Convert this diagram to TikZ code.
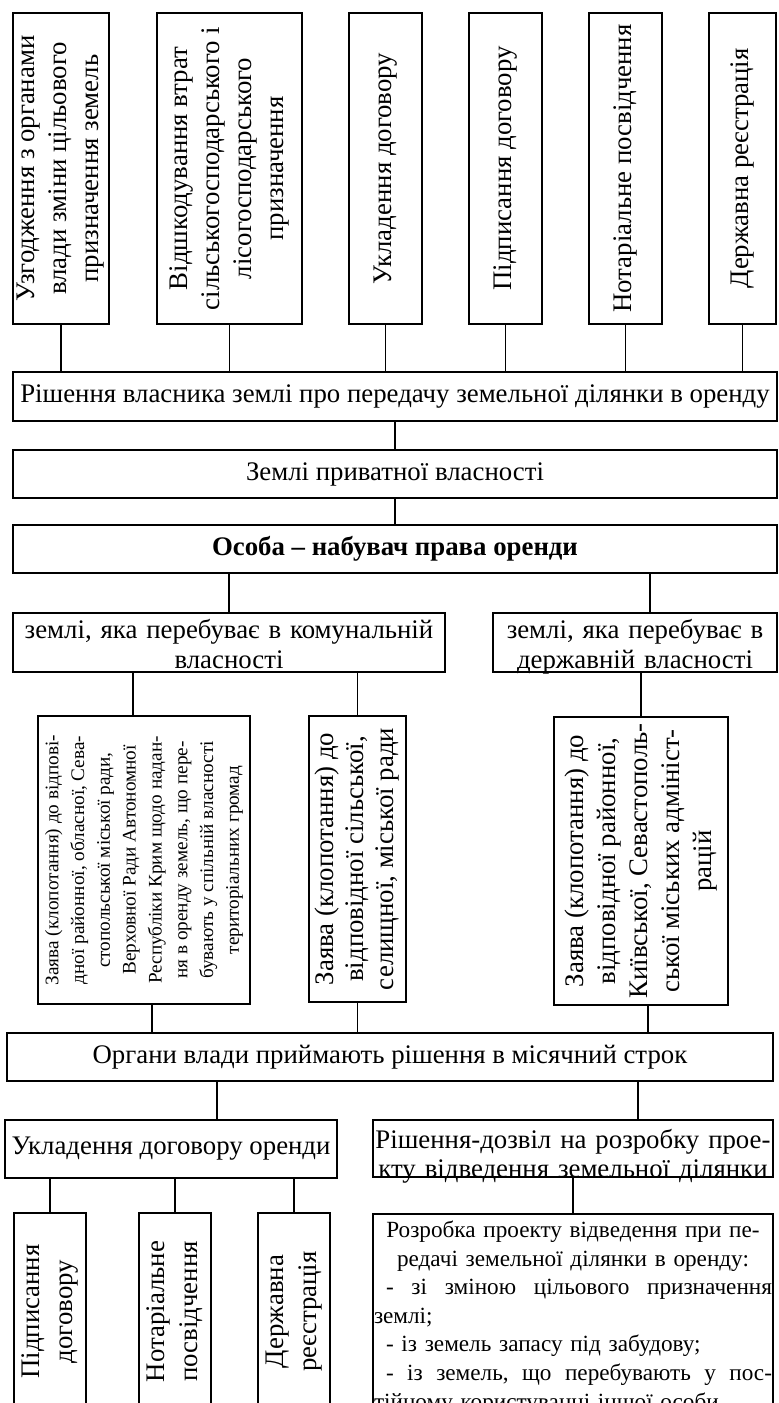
\documentclass[tikz,border=0pt]{standalone}
\usepackage{fontspec}
\setmainfont{Liberation Serif}
\usetikzlibrary{positioning,calc}
\newcommand{\fullline}[1]{\makebox[\linewidth][l]{#1}}
\newcommand{\midline}[1]{\makebox[\linewidth][c]{#1}}

\begin{document}
\begin{tikzpicture}[x=1pt,y=-1pt,
  box/.style={draw,line width=0.9pt,inner sep=0pt,align=center,font=\fontsize{13.4}{16}\selectfont},
  upbox/.style={box,rotate=90,minimum width=155.5pt},
  lowbox/.style={box,rotate=90,minimum width=98.5pt,minimum height=36pt,font=\fontsize{13.4}{16.5}\selectfont},
  widebox/.style={box,minimum width=382pt,minimum height=24.5pt},
  twoline/.style={box,text height=12.5pt,text depth=17pt,font=\fontsize{13.4}{15}\selectfont},
  link/.style={line width=0.9pt}]
  \useasboundingbox (0,0) rectangle (389.5,701.5);
  \clip (0,0) rectangle (389.5,701.5);

  \node[upbox,minimum height=48pt] (t1) at (30.5,84.25) {Узгодження з органами\\влади зміни цільового\\призначення земель};
  \node[upbox,minimum height=72.5pt] (t2) at (114.75,84.25) {Відшкодування втрат\\сільськогосподарського і\\лісогосподарського\\призначення};
  \node[upbox,minimum height=36.5pt] (t3) at (192.75,84.25) {Укладення договору};
  \node[upbox,minimum height=36.5pt] (t4) at (252.75,84.25) {Підписання договору};
  \node[upbox,minimum height=36.5pt] (t5) at (312.75,84.25) {Нотаріальне посвідчення};
  \node[upbox,minimum height=33.5pt] (t6) at (371.25,84.25) {Державна реєстрація};

  \node[widebox] (resh) at (197.5,198.25) {Рішення власника землі про передачу земельної ділянки в оренду};
  \node[widebox,minimum height=24pt] (zeml) at (197.5,237) {Землі приватної власності};
  \node[widebox,minimum height=24pt,font=\fontsize{13.4}{16}\selectfont\bfseries] (osoba) at (197.5,274.5) {Особа – набувач права оренди};

  \node[twoline,text width=216pt] (komun) at (114.5,321.25) {землі, яка перебуває в комунальній\\власності};
  \node[twoline,text width=142pt] (derzh) at (317.5,321.25) {землі, яка перебуває в\\державній власності};

  \node[box,rotate=90,minimum width=144pt,minimum height=106pt,font=\fontsize{9.6}{12.9}\selectfont] (z1) at (72,430)
    {Заява (клопотання) до відпові-\\дної районної, обласної, Сева-\\стопольської міської ради,\\Верховної Ради Автономної\\Республіки Крим щодо надан-\\ня в оренду земель, що пере-\\бувають у спільній власності\\територіальних громад};
  \node[box,rotate=90,minimum width=143pt,minimum height=48.5pt,font=\fontsize{13.4}{15}\selectfont] (z2) at (178.75,429.5)
    {Заява (клопотання) до\\відповідної сільської,\\селищної, міської ради};
  \node[box,rotate=90,minimum width=144pt,minimum height=87pt] (z3) at (320.5,430.5)
    {Заява (клопотання) до\\відповідної районної,\\Київської, Севастополь-\\ської міських адмініст-\\рацій};

  \node[box,minimum width=383pt,minimum height=24pt] (organy) at (195,528.5) {Органи влади приймають рішення в місячний строк};

  \node[box,minimum width=166pt,minimum height=29pt] (ukl) at (85.5,574.5) {Укладення договору оренди};
  \node[twoline,text width=200pt,text height=14pt,text depth=14.5pt,font=\fontsize{13.4}{14.5}\selectfont] (dozv) at (286.5,574.25)
    {\midline{Рішення-дозвіл на розробку прое-}\\\midline{кту відведення земельної ділянки}};

  \node[lowbox] (b1) at (25,655.75) {Підписання\\договору};
  \node[lowbox] (b2) at (87.5,655.75) {Нотаріальне\\посвідчення};
  \node[lowbox] (b3) at (147,655.75) {Державна\\реєстрація};

  \node[box,anchor=north,text width=199pt,inner xsep=0.5pt,inner ysep=3.5pt,align=left,font=\fontsize{11.6}{14.3}\selectfont] (rozr) at (286.5,606.5)
    {\midline{Розробка проекту відведення при пе-}\\
     \midline{редачі земельної ділянки в оренду:}\\
     \fullline{\hspace*{6pt}-\hfill зі\hfill зміною\hfill цільового\hfill призначення}\\
     землі;\\
     \hspace*{6pt}- із земель запасу під забудову;\\
     \fullline{\hspace*{6pt}-\hfill із\hfill земель,\hfill що\hfill перебувають\hfill у\hfill пос-}\\
     тійному користуванні іншої особи};

  \foreach \n in {t1,t2,t3,t4,t5,t6}
    \draw[link] (\n.west) -- (\n.west |- resh.north);
  \draw[link] (resh.south) -- (zeml.north);
  \draw[link] (zeml.south) -- (osoba.north);
  \draw[link] (komun.north) -- (komun.north |- osoba.south);
  \draw[link] ([xshift=7.5pt]derzh.north) -- ([xshift=7.5pt]derzh.north |- osoba.south);
  \draw[link] ([xshift=-5.5pt]z1.east) -- ([xshift=-5.5pt]z1.east |- komun.south);
  \draw[link] (z2.east) -- (z2.east |- komun.south);
  \draw[link] (z3.east) -- (z3.east |- derzh.south);
  \draw[link] ([xshift=4pt]z1.west) -- ([xshift=4pt]z1.west |- organy.north);
  \draw[link] (z2.west) -- (z2.west |- organy.north);
  \draw[link] ([xshift=3.5pt]z3.west) -- ([xshift=3.5pt]z3.west |- organy.north);
  \draw[link] ([xshift=23pt]ukl.north) -- ([xshift=23pt]ukl.north |- organy.south);
  \draw[link] ([xshift=32.5pt]dozv.north) -- ([xshift=32.5pt]dozv.north |- organy.south);
  \foreach \n in {b1,b2,b3}
    \draw[link] (\n.east) -- (\n.east |- ukl.south);
  \draw[link] (rozr.north) -- (rozr.north |- dozv.south);
\end{tikzpicture}
\end{document}
